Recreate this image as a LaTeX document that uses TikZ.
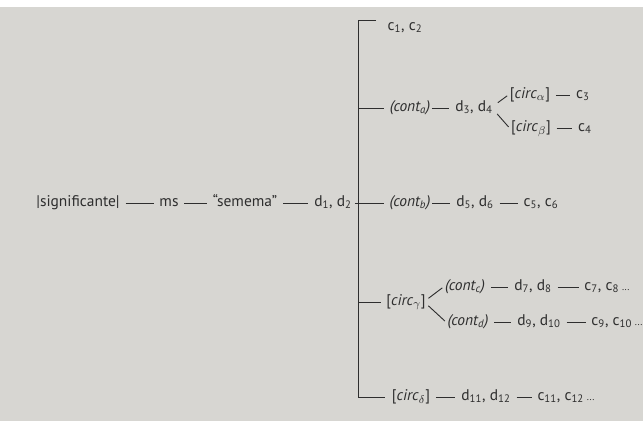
\documentclass[tikz,border=0pt]{standalone}
\usepackage{fontspec}
\setmainfont{PT Sans}
\usetikzlibrary{positioning,calc}
\definecolor{ink}{HTML}{2E2E2E}
\definecolor{paper}{HTML}{D7D6D2}
\newcommand{\lo}[1]{\textsubscript{#1}}
\newcommand{\etc}{\kern2pt{\scriptsize...}}

\begin{document}
\begin{tikzpicture}[x=0.025cm,y=-0.025cm,
  every node/.style={font=\fontsize{11}{13}\selectfont,text=ink,inner xsep=1pt,inner ysep=0pt,
    text height=1.5ex,text depth=0.5ex},
  link/.style={draw=ink,line width=0.65pt,shorten <=3pt,shorten >=3pt}]
\fill[paper] (0,7) rectangle (643,421);
\useasboundingbox (0,0) rectangle (643,421);
% main chain
\node (sig) at (78,203) {|significante|};
\node (ms) at (169,203) {ms};
\node (sem) at (245,203) {“semema”};
\node (d12) at (333,203) {d\lo1, d\lo2};
\draw[link] (sig) -- (ms);
\draw[link] (ms) -- (sem);
\draw[link] (sem) -- (d12);
% bracket
\coordinate (bar) at (358,0);
\coordinate (top) at (358,20);
\coordinate (bot) at (358,397);
\node (c12) at (405,27) {c\lo1, c\lo2};
\node (conta) at (410,108) {\itshape (cont\lo{a})};
\node (contb) at (410,203) {\itshape (cont\lo{b})};
\node (circg) at (406,302) {[\textit{circ}\lo{$\gamma$}]};
\node (circd) at (411,397) {[\textit{circ}\lo{$\delta$}]};
\draw[link,line width=0.7pt,shorten <=7pt,shorten >=4pt] (top -| c12.west) -- (top) -- (bot) -- (bot -| circd.west);
\draw[link,shorten <=1pt] (d12) -- (contb);
\draw[link,shorten <=0pt] (bar |- conta) -- (conta);
\draw[link,shorten <=0pt] (bar |- circg) -- (circg);
% cont a
\node (d34) at (474,108) {d\lo3, d\lo4};
\node (circa) at (530,95) {[\textit{circ}\lo{$\alpha$}]};
\node (c3) at (583,95) {c\lo3};
\node (circb) at (531,128) {[\textit{circ}\lo{$\beta$}]};
\node (c4) at (585,128) {c\lo4};
\draw[link,shorten <=0pt] (conta) -- (d34);
\draw[link,shorten >=1pt] ([yshift=2pt]d34.east) -- (circa.west);
\draw[link,shorten >=1pt] ([yshift=-2pt]d34.east) -- (circb.west);
\draw[link] (circa) -- (c3);
\draw[link] (circb) -- (c4);
% cont b
\node (d56) at (475,203) {d\lo5, d\lo6};
\node (c56) at (541,203) {c\lo5, c\lo6};
\draw[link,shorten <=0pt] (contb) -- (d56);
\draw[link] (d56) -- (c56);
% circ gamma
\node (contc) at (465,287) {\itshape (cont\lo{c})};
\node (d78) at (533,287) {d\lo7, d\lo8};
\node (c78) at (607,287) {c\lo7, c\lo8\etc};
\node (contd) at (468,322) {\itshape (cont\lo{d})};
\node (d910) at (539,322) {d\lo9, d\lo{10}};
\node (c910) at (617,322) {c\lo9, c\lo{10}\etc};
\draw[link,shorten <=1pt,shorten >=1pt] ([yshift=2pt]circg.east) -- (contc.west);
\draw[link,shorten <=1pt,shorten >=1pt] ([yshift=-2pt]circg.east) -- (contd.west);
\draw[link] (contc) -- (d78);
\draw[link] (d78) -- (c78);
\draw[link] (contd) -- (d910);
\draw[link] (d910) -- (c910);
% circ delta
\node (d1112) at (486,397) {d\lo{11}, d\lo{12}};
\node (c1112) at (566,397) {c\lo{11}, c\lo{12}\etc};
\draw[link] (circd) -- (d1112);
\draw[link] (d1112) -- (c1112);
\end{tikzpicture}
\end{document}
